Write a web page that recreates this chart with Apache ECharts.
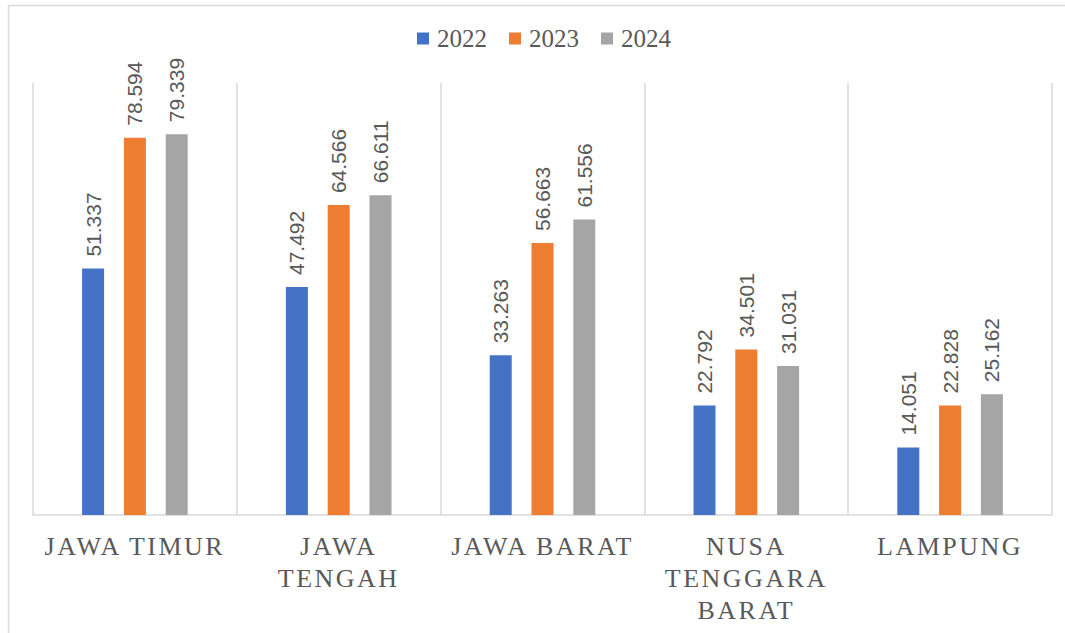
<!DOCTYPE html>
<html>
<head>
<meta charset="utf-8">
<script src="https://cdn.jsdelivr.net/npm/echarts@6/dist/echarts.min.js"></script>
<style>
  html, body { margin: 0; padding: 0; background: #fff; }
  #chart { width: 1065px; height: 633px; }
</style>
</head>
<body>
<div id="chart"></div>
<script>
// provinces (line breaks as in the original axis labels)
const categories = ['JAWA TIMUR', 'JAWA\nTENGAH', 'JAWA BARAT', 'NUSA\nTENGGARA\nBARAT', 'LAMPUNG'];
const years = ['2022', '2023', '2024'];
const data2022 = [51.337, 47.492, 33.263, 22.792, 14.051];
const data2023 = [78.594, 64.566, 56.663, 34.501, 22.828];
const data2024 = [79.339, 66.611, 61.556, 31.031, 25.162];
const colors = ['#4472C4', '#ED7D31', '#A5A5A5'];

const chart = echarts.init(document.getElementById('chart'), null, { renderer: 'svg' });

const labelStyle = {
  show: true,
  position: 'top',
  rotate: 90,
  align: 'left',
  verticalAlign: 'middle',
  distance: 12,
  color: '#595959',
  fontFamily: 'Liberation Sans',
  fontSize: 21,
  formatter: (p) => p.value.toFixed(3),
};

function makeSeries(name, values, i) {
  return {
    name: name,
    type: 'bar',
    data: values,
    barWidth: 22,
    barGap: '90%',
    itemStyle: { color: colors[i] },
    label: labelStyle,
  };
}

const option = {
  animation: false,
  color: colors,
  graphic: [{
    type: 'rect',
    shape: { x: 8.5, y: 5.5, width: 1080, height: 660 },
    style: { fill: 'none', stroke: '#d9d9d9', lineWidth: 1.5 },
    silent: true,
  }],
  legend: {
    data: years,
    top: 21,
    left: 412,
    itemWidth: 12,
    itemHeight: 12,
    itemGap: 22,
    icon: 'rect',
    textStyle: {
      fontFamily: 'Liberation Serif',
      fontSize: 25,
      color: '#595959',
      padding: [2, 0, 0, 3],
    },
  },
  grid: {
    left: 33,
    right: 13,
    top: 83,
    bottom: 118,
  },
  xAxis: {
    type: 'category',
    data: categories,
    axisTick: { show: false },
    axisLine: { lineStyle: { color: '#d9d9d9', width: 1.5 } },
    splitLine: { show: true, interval: 0, lineStyle: { color: '#d9d9d9', width: 1.5 } },
    axisLabel: {
      interval: 0,
      margin: 15,
      fontFamily: 'Liberation Serif',
      fontSize: 26,
      lineHeight: 32,
      color: '#595959',
    },
  },
  yAxis: {
    type: 'value',
    min: 0,
    max: 90,
    show: false,
    splitLine: { show: false },
  },
  series: [
    makeSeries(years[0], data2022, 0),
    makeSeries(years[1], data2023, 1),
    makeSeries(years[2], data2024, 2),
  ],
};

chart.setOption(option);

// spread out the category label letters like the original
const labelWords = [];
categories.forEach((c) => c.split('\n').forEach((w) => labelWords.push(w)));
function spaceLabels() {
  chart.getDom().querySelectorAll('text').forEach((t) => {
    if (labelWords.indexOf(t.textContent) >= 0) {
      t.style.letterSpacing = '2.5px';
    }
  });
}
chart.on('finished', spaceLabels);
setTimeout(spaceLabels, 50);
</script>
</body>
</html>
